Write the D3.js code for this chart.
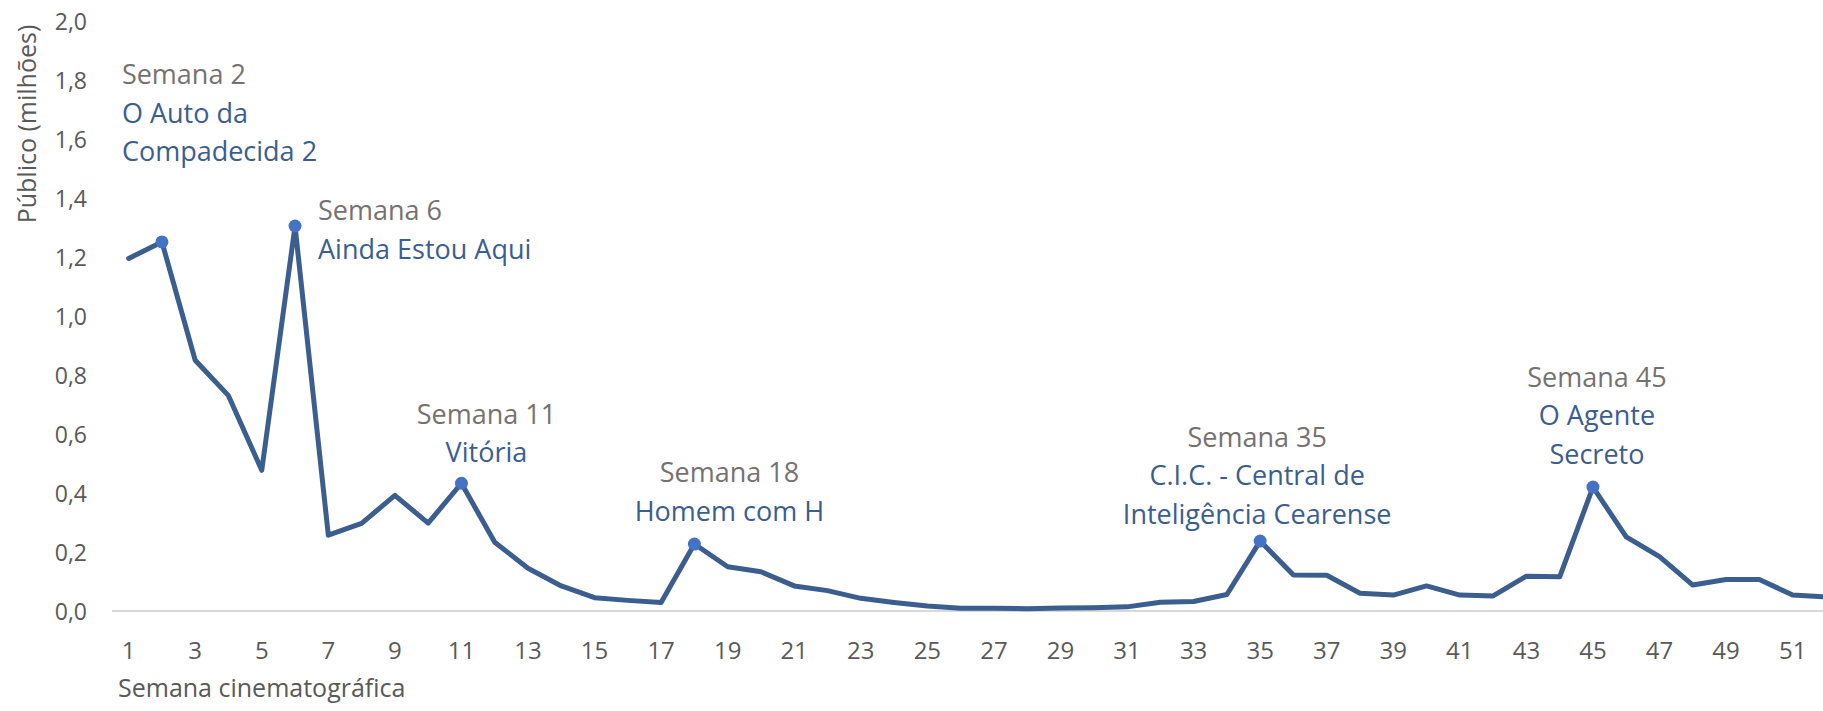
<!DOCTYPE html>
<html>
<head>
<meta charset="utf-8">
<script src="https://cdn.jsdelivr.net/npm/d3@7"></script>
<style>
  html, body { margin: 0; padding: 0; background: #fff; overflow: hidden; }
  text { font-family: "Open Sans", "Noto Sans", sans-serif; }
</style>
</head>
<body>
<div id="chart"></div>
<script>
"use strict";

// weekly audience, millions
var weeks = d3.range(1, 53);
var publico = [
  1.195, 1.251, 0.850, 0.730, 0.477, 1.305, 0.257, 0.297, 0.392, 0.298,
  0.433, 0.233, 0.145, 0.085, 0.045, 0.036, 0.029, 0.227, 0.150, 0.133,
  0.085, 0.069, 0.043, 0.029, 0.017, 0.009, 0.009, 0.008, 0.010, 0.011,
  0.014, 0.030, 0.032, 0.056, 0.237, 0.122, 0.121, 0.060, 0.054, 0.085,
  0.054, 0.051, 0.118, 0.116, 0.420, 0.251, 0.184, 0.088, 0.107, 0.107,
  0.054, 0.048
];
var yTicks = [0, 0.2, 0.4, 0.6, 0.8, 1.0, 1.2, 1.4, 1.6, 1.8, 2.0];
var xTicks = weeks.filter(function(w) { return w % 2 === 1; });

// highlighted weeks and their films
var destaqueSemanas = [2, 6, 11, 18, 35, 45];
var destaqueFilmes = [
  ["O Auto da", "Compadecida 2"],
  ["Ainda Estou Aqui"],
  ["Vitória"],
  ["Homem com H"],
  ["C.I.C. - Central de", "Inteligência Cearense"],
  ["O Agente", "Secreto"]
];

// label placement relative to the point
var labelPos = [
  {dx: -40, dy: -167, anchor: "start"},
  {dx: 23,  dy: -15,  anchor: "start"},
  {dx: 25,  dy: -69,  anchor: "middle"},
  {dx: 35,  dy: -71,  anchor: "middle"},
  {dx: -3,  dy: -104, anchor: "middle"},
  {dx: 4,   dy: -110, anchor: "middle"}
];

var width = 1823, height = 711;
var lineColor = "#3b5e8e",
    dotColor = "#4472c4",
    grey = "#767171",
    tickColor = "#595959";

var svg = d3.select("#chart").append("svg")
  .attr("width", width)
  .attr("height", height);

var x = d3.scaleBand()
  .domain(weeks)
  .range([112, 112 + 52 * 33.28]);

var y = d3.scaleLinear()
  .domain([0, 2])
  .range([611, 21]);

function cx(w) { return x(w) + x.bandwidth() / 2; }

var ptBR = d3.formatLocale({decimal: ",", thousands: ".", grouping: [3], currency: ["R$", ""]});
var fmt = ptBR.format(".1f");

// baseline
svg.append("line")
  .attr("x1", x.range()[0])
  .attr("x2", x.range()[1])
  .attr("y1", y(0))
  .attr("y2", y(0))
  .attr("stroke", "#d9d9d9")
  .attr("stroke-width", 2);

// y axis labels
var yAxis = svg.append("g")
  .attr("transform", "translate(87,0)")
  .call(d3.axisLeft(y).tickValues(yTicks).tickFormat(fmt).tickSize(0).tickPadding(0));
yAxis.select(".domain").remove();
yAxis.selectAll("text")
  .attr("fill", tickColor)
  .style("font-size", "23px")
  .attr("dy", "0.35em");

// x axis labels
var xAxis = svg.append("g")
  .attr("transform", "translate(0," + y(0) + ")")
  .call(d3.axisBottom(x).tickValues(xTicks).tickSize(0).tickPadding(0));
xAxis.select(".domain").remove();
xAxis.selectAll("text")
  .attr("fill", tickColor)
  .style("font-size", "24px")
  .attr("y", 40)
  .attr("dy", "0.35em");

// axis titles
svg.append("text")
  .attr("transform", "translate(27,124) rotate(-90)")
  .attr("text-anchor", "middle")
  .attr("dy", "0.35em")
  .attr("fill", tickColor)
  .style("font-size", "25px")
  .text("Público (milhões)");

svg.append("text")
  .attr("x", 118)
  .attr("y", 697)
  .attr("fill", tickColor)
  .style("font-size", "25px")
  .text("Semana cinematográfica");

// line
var line = d3.line()
  .x(function(d, i) { return cx(weeks[i]); })
  .y(function(d) { return y(d); });

svg.append("path")
  .datum(publico)
  .attr("d", line)
  .attr("fill", "none")
  .attr("stroke", lineColor)
  .attr("stroke-width", 5)
  .attr("stroke-linejoin", "round")
  .attr("stroke-linecap", "round");

// highlighted points
svg.selectAll("circle.peak")
  .data(destaqueSemanas)
  .enter()
  .append("circle")
  .attr("class", "peak")
  .attr("cx", function(w) { return cx(w); })
  .attr("cy", function(w) { return y(publico[w - 1]); })
  .attr("r", 6.5)
  .attr("fill", dotColor);

// annotations
var lineGap = 38.5;
destaqueSemanas.forEach(function(w, i) {
  var p = labelPos[i];
  var px = cx(w) + p.dx,
      py = y(publico[w - 1]) + p.dy;
  var g = svg.append("text")
    .attr("text-anchor", p.anchor)
    .style("font-size", "27px");
  g.append("tspan")
    .attr("x", px)
    .attr("y", py)
    .attr("dy", "0.35em")
    .attr("fill", grey)
    .text("Semana " + w);
  destaqueFilmes[i].forEach(function(t, j) {
    g.append("tspan")
      .attr("x", px)
      .attr("y", py + (j + 1) * lineGap)
      .attr("dy", "0.35em")
      .attr("fill", lineColor)
      .text(t);
  });
});
</script>
</body>
</html>
